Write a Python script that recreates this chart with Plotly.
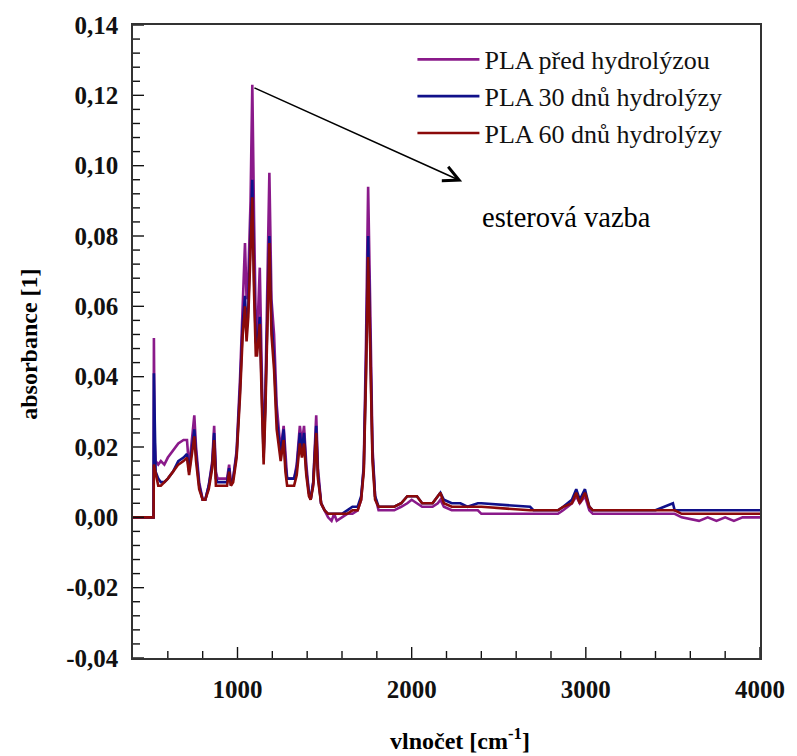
import plotly.graph_objects as go

# wavenumber grid (cm^-1)
wn = [400, 518, 520, 524, 530, 545, 560, 580, 600, 630, 660, 690, 710, 722, 730, 740, 752, 762, 780, 800,
      815, 835, 855, 866, 876, 885, 940, 952, 962, 975, 995, 1015, 1030, 1043, 1052, 1062, 1075, 1085, 1095, 1105,
      1112, 1128, 1140, 1150, 1160, 1170, 1183, 1195, 1210, 1225, 1240, 1248, 1265, 1275, 1285, 1325, 1340, 1358, 1370, 1382,
      1395, 1410, 1420, 1435, 1452, 1462, 1480, 1500, 1520, 1540, 1555, 1570, 1600, 1630, 1660, 1690, 1710, 1725, 1738, 1750,
      1762, 1775, 1790, 1810, 1850, 1900, 1940, 1975, 2000, 2030, 2060, 2120, 2150, 2165, 2185, 2230, 2280, 2320, 2380, 2400,
      2680, 2700, 2840, 2870, 2920, 2945, 2965, 2995, 3020, 3040, 3400, 3500, 3510, 3550, 3650, 3700, 3750, 3800, 3850, 3900,
      4000]

pla_0 = [0, 0, 0.051, 0.022, 0.016, 0.015, 0.016, 0.015, 0.017, 0.019, 0.021, 0.022, 0.022, 0.014, 0.018, 0.024, 0.029, 0.020, 0.010, 0.005,
         0.005, 0.009, 0.016, 0.026, 0.013, 0.011, 0.011, 0.015, 0.010, 0.011, 0.019, 0.040, 0.062, 0.078, 0.062, 0.068, 0.090, 0.123, 0.085, 0.055,
         0.050, 0.071, 0.040, 0.018, 0.035, 0.065, 0.098, 0.062, 0.052, 0.032, 0.022, 0.019, 0.026, 0.017, 0.011, 0.011, 0.015, 0.026, 0.021, 0.026,
         0.015, 0.007, 0.005, 0.010, 0.029, 0.014, 0.004, 0.002, 0.000, -0.001, 0.001, -0.001, 0.000, 0.001, 0.001, 0.002, 0.005, 0.015, 0.050, 0.094,
         0.060, 0.020, 0.006, 0.002, 0.002, 0.002, 0.003, 0.004, 0.005, 0.004, 0.003, 0.003, 0.004, 0.005, 0.003, 0.002, 0.002, 0.002, 0.002, 0.001,
         0.001, 0.001, 0.001, 0.002, 0.004, 0.006, 0.004, 0.006, 0.002, 0.001, 0.001, 0.001, 0.001, 0.000, -0.001, 0.000, -0.001, 0.000, -0.001, 0.000,
         0.000]

pla_30 = [0, 0, 0.041, 0.022, 0.013, 0.011, 0.010, 0.010, 0.011, 0.013, 0.016, 0.017, 0.018, 0.013, 0.016, 0.021, 0.025, 0.018, 0.009, 0.005,
          0.005, 0.009, 0.015, 0.024, 0.011, 0.010, 0.010, 0.014, 0.009, 0.011, 0.018, 0.037, 0.055, 0.063, 0.053, 0.060, 0.080, 0.096, 0.068, 0.050,
          0.048, 0.057, 0.035, 0.017, 0.033, 0.055, 0.080, 0.056, 0.045, 0.028, 0.020, 0.018, 0.025, 0.015, 0.011, 0.011, 0.014, 0.024, 0.019, 0.024,
          0.013, 0.007, 0.005, 0.010, 0.026, 0.012, 0.004, 0.002, 0.001, 0.001, 0.001, 0.001, 0.001, 0.002, 0.003, 0.003, 0.006, 0.014, 0.043, 0.080,
          0.052, 0.018, 0.006, 0.003, 0.003, 0.003, 0.004, 0.006, 0.006, 0.006, 0.004, 0.004, 0.006, 0.007, 0.005, 0.004, 0.004, 0.003, 0.004, 0.004,
          0.003, 0.002, 0.002, 0.003, 0.005, 0.008, 0.005, 0.008, 0.003, 0.002, 0.002, 0.004, 0.002, 0.002, 0.002, 0.002, 0.002, 0.002, 0.002, 0.002,
          0.002]

pla_60 = [0, 0, 0.015, 0.014, 0.012, 0.009, 0.009, 0.010, 0.011, 0.013, 0.015, 0.016, 0.017, 0.012, 0.015, 0.019, 0.023, 0.016, 0.008, 0.005,
          0.005, 0.008, 0.014, 0.022, 0.009, 0.009, 0.009, 0.013, 0.009, 0.010, 0.017, 0.035, 0.052, 0.060, 0.050, 0.057, 0.075, 0.091, 0.064, 0.046,
          0.046, 0.055, 0.032, 0.015, 0.030, 0.052, 0.078, 0.052, 0.042, 0.025, 0.018, 0.016, 0.022, 0.013, 0.009, 0.009, 0.012, 0.021, 0.017, 0.021,
          0.012, 0.006, 0.005, 0.009, 0.024, 0.011, 0.004, 0.002, 0.001, 0.001, 0.001, 0.001, 0.001, 0.001, 0.002, 0.002, 0.005, 0.013, 0.040, 0.074,
          0.048, 0.016, 0.005, 0.003, 0.003, 0.003, 0.004, 0.006, 0.006, 0.006, 0.004, 0.004, 0.006, 0.007, 0.004, 0.003, 0.003, 0.003, 0.003, 0.003,
          0.002, 0.002, 0.002, 0.003, 0.004, 0.007, 0.004, 0.007, 0.003, 0.002, 0.002, 0.002, 0.002, 0.001, 0.001, 0.001, 0.001, 0.001, 0.001, 0.001,
          0.001]

series_names = ["PLA před hydrolýzou", "PLA 30 dnů hydrolýzy", "PLA 60 dnů hydrolýzy"]
series_colors = ["#8a1a8a", "#10108a", "#8b0a0a"]

# axis ticks
X_RANGE = [400, 4000]
Y_RANGE = [-0.04, 0.14]
x_major = [1000, 2000, 3000, 4000]
x_minor = [v for v in range(600, 4000, 200) if v % 1000 != 0]
y_tickvals = [0.14, 0.12, 0.10, 0.08, 0.06, 0.04, 0.02, 0.00, -0.02, -0.04]
y_ticktext = ["0,14", "0,12", "0,10", "0,08", "0,06", "0,04", "0,02", "0,00", "-0,02", "-0,04"]
y_minor = [round(-0.04 + 0.004 * i, 3) for i in range(46) if i % 5 != 0]

FONT = "Liberation Serif, Times New Roman, serif"

fig = go.Figure()
for name, ys, col in zip(series_names, [pla_0, pla_30, pla_60], series_colors):
    fig.add_trace(go.Scatter(x=wn, y=ys, mode="lines", name=name,
                             line=dict(color=col, width=2.6)))

axis_common = dict(showgrid=False, zeroline=False, showline=True, linecolor="#333333",
                   linewidth=1.5, mirror=True, ticks="",
                   tickfont=dict(family=FONT, size=25, color="#111111", weight="bold"))

fig.update_xaxes(range=X_RANGE, tickmode="array", tickvals=x_major, ticktext=[str(v) for v in x_major],
                 ticklabelstandoff=8, **axis_common)
fig.update_yaxes(range=Y_RANGE, tickmode="array", tickvals=y_tickvals, ticktext=y_ticktext,
                 ticklabelstandoff=8, **axis_common)

# inward tick marks drawn at the axis tick values (length in pixels)
TICK_LINE = dict(color="#111111", width=1.4)
for v, ln in [(v, 11) for v in x_major] + [(v, 7) for v in x_minor]:
    fig.add_shape(type="line", xref="x", yref="y", x0=v, x1=v,
                  ysizemode="pixel", yanchor=Y_RANGE[0], y0=0, y1=ln, line=TICK_LINE, layer="above")
for v, ln in [(v, 11) for v in y_tickvals] + [(v, 7) for v in y_minor]:
    fig.add_shape(type="line", xref="x", yref="y", y0=v, y1=v,
                  xsizemode="pixel", xanchor=X_RANGE[0], x0=0, x1=ln, line=TICK_LINE, layer="above")

fig.add_annotation(x=2290, y=0.0955, ax=1080, ay=0.1225, xref="x", yref="y", axref="x", ayref="y",
                   showarrow=True, arrowhead=5, arrowsize=1.9, arrowwidth=1.6, arrowcolor="black", text=" ")
fig.add_annotation(x=(572 - 133) / 635, y=(658 - 215) / 636, xref="paper", yref="paper", showarrow=False,
                   xanchor="center", yanchor="middle",
                   text="esterová vazba", font=dict(family=FONT, size=28.5, color="black"))
fig.add_annotation(x=(464 - 133) / 635, y=(658 - 739) / 636, xref="paper", yref="paper", showarrow=False,
                   xanchor="center", yanchor="middle",
                   text="<b>vlnočet [cm<sup>-1</sup>]</b>", font=dict(family=FONT, size=24, color="black"))
fig.add_annotation(x=(28 - 133) / 635, y=(658 - 343) / 636, xref="paper", yref="paper", showarrow=False,
                   xanchor="center", yanchor="middle",
                   textangle=-90, text="<b>absorbance [1]</b>", font=dict(family=FONT, size=24, color="black"))

fig.update_layout(
    width=797, height=756,
    margin=dict(l=133, r=29, t=22, b=98),
    paper_bgcolor="white", plot_bgcolor="white",
    showlegend=True,
    legend=dict(x=(416 - 133) / 635, y=(658 - 33) / 636, xanchor="left", yanchor="top",
                bgcolor="rgba(0,0,0,0)", borderwidth=0, itemwidth=62, tracegroupgap=0,
                font=dict(family=FONT, size=26, color="#111111")),
)

fig.write_html("out.html")
